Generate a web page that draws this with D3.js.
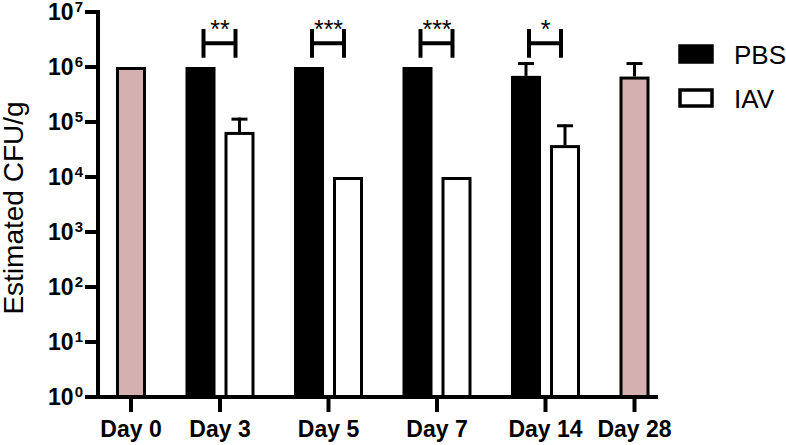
<!DOCTYPE html>
<html>
<head>
<meta charset="utf-8">
<script src="https://cdn.jsdelivr.net/npm/d3@7"></script>
<style>
  body { margin: 0; background: #fff; }
  svg text { font-family: "Liberation Sans", Arial, sans-serif; }
</style>
</head>
<body>
<div class="chart"></div>
<script>
// values (upper error bars are mean + SD)
var days = ["Day 0", "Day 3", "Day 5", "Day 7", "Day 14", "Day 28"];
var naiveMean = [1e6, null, null, null, null, 6.7e5];
var naiveTop  = [null, null, null, null, null, 1.23e6];
var pbsMean   = [null, 1e6, 1e6, 1e6, 6.9e5, null];
var pbsTop    = [null, null, null, null, 1.23e6, null];
var iavMean   = [null, 6.6e4, 1e4, 1e4, 3.8e4, null];
var iavTop    = [null, 1.2e5, null, null, 9.1e4, null];
var stars     = ["", "**", "***", "***", "*", ""];
var yTicks    = [0, 1, 2, 3, 4, 5, 6, 7];
var legendKeys = ["PBS", "IAV"];

var width = 786, height = 445;
var margin = {left: 98, right: 128, top: 12, bottom: 48};

var svg = d3.select(".chart").append("svg")
    .attr("width", width)
    .attr("height", height);

// layout of the bars in "units" (single bars for Day 0 / Day 28, pairs otherwise)
var barW = 30, inGap = 9, outGap = 39.5, startPad = 18;
var slots = [];   // one entry per drawn bar
var groupCenter = [];
var pos = startPad;
days.forEach(function(day, i) {
  var first = pos;
  if (naiveMean[i] != null) {
    slots.push({day: i, kind: "naive", x: pos, mean: naiveMean[i], top: naiveTop[i]});
    pos += barW;
  } else {
    slots.push({day: i, kind: "pbs", x: pos, mean: pbsMean[i], top: pbsTop[i]});
    pos += barW + inGap;
    slots.push({day: i, kind: "iav", x: pos, mean: iavMean[i], top: iavTop[i]});
    pos += barW;
  }
  groupCenter.push((first + pos) / 2);
  pos += outGap;
});
var total = 560;

var x = d3.scaleLinear().domain([0, total]).range([margin.left, width - margin.right]);
var y = d3.scaleLog().domain([1, 1e7]).range([height - margin.bottom, margin.top]);

var fills = {naive: "#d5b0b0", pbs: "#000", iav: "#fff"};

// bars
svg.selectAll(".bar").data(slots).enter().append("rect")
    .attr("class", "bar")
    .attr("x", function(d) { return x(d.x) + 1.5; })
    .attr("width", x(barW) - x(0) - 3)
    .attr("y", function(d) { return y(d.mean) + 1.5; })
    .attr("height", function(d) { return y(1) - y(d.mean) - 1.5; })
    .attr("fill", function(d) { return fills[d.kind]; })
    .attr("stroke", "#000")
    .attr("stroke-width", 3);

// error bars (upper only)
var errs = slots.filter(function(d) { return d.top != null; });
var eb = svg.selectAll(".err").data(errs).enter().append("g").attr("class", "err");
eb.append("line")
    .attr("x1", function(d) { return x(d.x + barW / 2); })
    .attr("x2", function(d) { return x(d.x + barW / 2); })
    .attr("y1", function(d) { return y(d.mean); })
    .attr("y2", function(d) { return y(d.top); })
    .attr("stroke", "#000").attr("stroke-width", 3);
eb.append("line")
    .attr("x1", function(d) { return x(d.x + barW / 2) - 8; })
    .attr("x2", function(d) { return x(d.x + barW / 2) + 8; })
    .attr("y1", function(d) { return y(d.top) + 1.5; })
    .attr("y2", function(d) { return y(d.top) + 1.5; })
    .attr("stroke", "#000").attr("stroke-width", 3);

// y axis
var yAxis = svg.append("g").attr("class", "y axis");
yAxis.append("line")
    .attr("x1", x(0)).attr("x2", x(0))
    .attr("y1", y(1e7) - 2).attr("y2", y(1) + 2)
    .attr("stroke", "#000").attr("stroke-width", 4);
var yt = yAxis.selectAll(".tick").data(yTicks).enter().append("g").attr("class", "tick")
    .attr("transform", function(d) { return "translate(0," + y(Math.pow(10, d)) + ")"; });
yt.append("line")
    .attr("x1", x(0) - 13).attr("x2", x(0))
    .attr("stroke", "#000").attr("stroke-width", 4);
var lab = yt.append("text")
    .attr("x", x(0) - 15)
    .attr("y", 8)
    .attr("text-anchor", "end")
    .attr("font-weight", "bold")
    .attr("font-size", 23);
lab.append("tspan").text("10");
lab.append("tspan").text(function(d) { return d; })
    .attr("font-size", 15)
    .attr("dx", 1)
    .attr("dy", -8.5);

svg.append("text")
    .attr("transform", "translate(23," + 208 + ") rotate(-90)")
    .attr("text-anchor", "middle")
    .attr("font-size", 28)
    .text("Estimated CFU/g");

// x axis
var xAxis = svg.append("g").attr("class", "x axis");
xAxis.append("line")
    .attr("x1", x(0) - 2).attr("x2", x(total))
    .attr("y1", y(1)).attr("y2", y(1))
    .attr("stroke", "#000").attr("stroke-width", 4);
var xt = xAxis.selectAll(".tick").data(days).enter().append("g").attr("class", "tick")
    .attr("transform", function(d, i) { return "translate(" + x(groupCenter[i]) + "," + y(1) + ")"; });
xt.append("line").attr("y1", 0).attr("y2", 15)
    .attr("stroke", "#000").attr("stroke-width", 4);
xt.append("text")
    .attr("y", 39.5)
    .attr("text-anchor", "middle")
    .attr("font-weight", "bold")
    .attr("font-size", 23)
    .text(function(d) { return d; });

// significance brackets
var sig = days.map(function(d, i) { return {i: i, s: stars[i]}; })
    .filter(function(d) { return d.s !== ""; });
var br = svg.selectAll(".sig").data(sig).enter().append("g").attr("class", "sig");
function cx(i, k) {
  var s = slots.filter(function(d) { return d.day === i && d.kind === k; })[0];
  return x(s.x + barW / 2);
}
var brTop = y(Math.pow(10, 6.69)), brBot = y(Math.pow(10, 6.17)), brMid = y(Math.pow(10, 6.43));
br.append("path")
    .attr("d", function(d) {
      var a = cx(d.i, "pbs") + 3, b = cx(d.i, "iav") - 4;
      return "M" + a + "," + brTop + "V" + brBot +
             "M" + a + "," + brMid + "H" + b +
             "M" + b + "," + brTop + "V" + brBot;
    })
    .attr("fill", "none").attr("stroke", "#000").attr("stroke-width", 4);
br.append("text")
    .attr("x", function(d) { return (cx(d.i, "pbs") + cx(d.i, "iav")) / 2; })
    .attr("y", 38)
    .attr("text-anchor", "middle")
    .attr("font-size", 25)
    .text(function(d) { return d.s; });

// legend
var lg = svg.selectAll(".legend").data(legendKeys).enter().append("g").attr("class", "legend")
    .attr("transform", function(d, i) { return "translate(680," + (46 + i * 44) + ")"; });
lg.append("rect")
    .attr("width", 32).attr("height", 16)
    .attr("fill", function(d) { return d === "PBS" ? "#000" : "#fff"; })
    .attr("stroke", "#000").attr("stroke-width", 3.5);
lg.append("text")
    .attr("x", 54).attr("y", 17.5)
    .attr("font-size", 26)
    .text(function(d) { return d; });
</script>
</body>
</html>
